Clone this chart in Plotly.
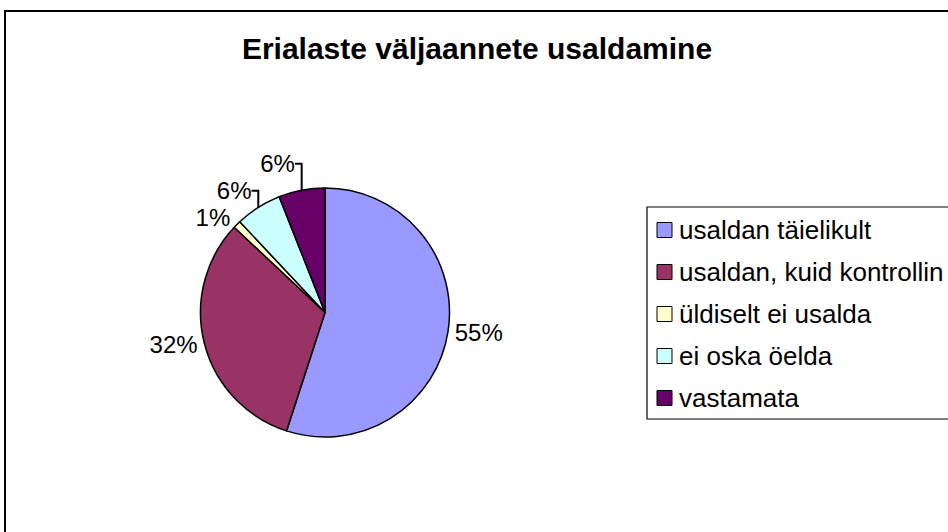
import plotly.graph_objects as go

# Data
categories = ["usaldan täielikult", "usaldan, kuid kontrollin", "üldiselt ei usalda",
              "ei oska öelda", "vastamata"]
values = [55, 32, 1, 6, 6]
colors = ["#9999FF", "#993366", "#FFFFCC", "#CCFFFF", "#660066"]
title_text = "Erialaste väljaannete usaldamine"

W, H = 948, 532
cx, cy, R = 325, 312.5, 124.5
FONT = "Liberation Sans, Arial, sans-serif"

fig = go.Figure()
fig.add_trace(go.Pie(
    labels=categories,
    values=values,
    sort=False,
    direction="clockwise",
    rotation=0,
    marker=dict(colors=colors, line=dict(color="black", width=1.5)),
    texttemplate="%{percent:.0%}",
    textposition="outside",
    textfont=dict(family=FONT, size=24, color="black"),
    domain=dict(x=[(cx - R) / W, (cx + R) / W], y=[(H - cy - R) / H, (H - cy + R) / H]),
    hoverinfo="label+percent",
    showlegend=False,
))

# Legend drawn in Excel style (box, coloured squares, labels), built from the lists
lg_left, lg_top, lg_bottom = 647, 207, 419
row0, row_gap, sq = 230, 42, 15
shapes = [
    # chart border
    dict(type="rect", xref="paper", yref="paper",
         x0=5 / W, x1=1.02, y0=-0.02, y1=1 - 11 / H,
         line=dict(color="black", width=2), layer="below"),
    # legend box
    dict(type="rect", xref="paper", yref="paper",
         x0=lg_left / W, x1=1.05, y0=1 - lg_bottom / H, y1=1 - lg_top / H,
         line=dict(color="black", width=1.2), fillcolor="white", layer="below"),
]
annotations = []
for i, (lab, col) in enumerate(zip(categories, colors)):
    yc = row0 + i * row_gap
    shapes.append(dict(type="rect", xref="paper", yref="paper",
                       x0=(lg_left + 10) / W, x1=(lg_left + 10 + sq) / W,
                       y0=1 - (yc + sq / 2) / H, y1=1 - (yc - sq / 2) / H,
                       line=dict(color="black", width=1), fillcolor=col))
    annotations.append(dict(text=lab, xref="paper", yref="paper",
                            x=(lg_left + 10 + sq + 5) / W, y=1 - yc / H,
                            xanchor="left", yanchor="middle", showarrow=False,
                            font=dict(family=FONT, size=26, color="black")))

fig.update_layout(
    width=W, height=H,
    margin=dict(l=0, r=0, t=0, b=0),
    paper_bgcolor="white",
    plot_bgcolor="white",
    title=dict(text="<b>" + title_text + "</b>", x=477 / W, xanchor="center",
               y=1 - 48 / H, yanchor="middle",
               font=dict(family=FONT, size=30, color="black")),
    showlegend=False,
    shapes=shapes,
    annotations=annotations,
)

fig.write_html("out.html", config={"displayModeBar": False},
               post_script="document.body.style.margin='0px';")
